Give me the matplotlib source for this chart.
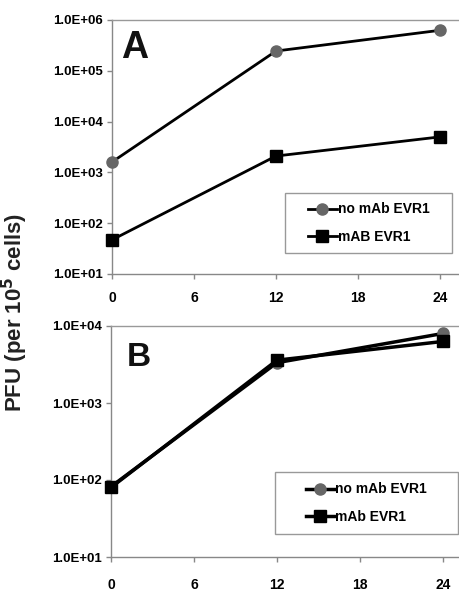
import matplotlib
matplotlib.use("Agg")
import matplotlib.pyplot as plt
from matplotlib.ticker import FixedLocator, NullLocator
from matplotlib.patches import Rectangle

plt.rcParams['font.family'] = ['Liberation Sans', 'DejaVu Sans']
plt.rcParams['font.weight'] = 'bold'

hours = [0, 12, 24]
xticks = [0, 6, 12, 18, 24]

a_no_mab = [1600, 245000, 627000]
a_mab = [47, 2100, 5000]
a_labels = ["no mAb EVR1", "mAB EVR1"]
a_yticks = [1e1, 1e2, 1e3, 1e4, 1e5, 1e6]
a_yticklabels = ["1.0E+01", "1.0E+02", "1.0E+03", "1.0E+04", "1.0E+05", "1.0E+06"]

b_no_mab = [82, 3340, 8000]
b_mab = [80, 3600, 6300]
b_labels = ["no mAb EVR1", "mAb EVR1"]
b_yticks = [1e1, 1e2, 1e3, 1e4]
b_yticklabels = ["1.0E+01", "1.0E+02", "1.0E+03", "1.0E+04"]

W, H = 459, 609
fig = plt.figure(figsize=(W / 100, H / 100), dpi=100)


def make_ax(left, top, bottom, x24):
    right = W
    ax = fig.add_axes([left / W, 1 - bottom / H, (right - left) / W, (bottom - top) / H])
    xmax = 24 * (right - left) / (x24 - left)
    return ax, xmax


def style(ax, xmax, yticks, ylabels, ylim, xpad, letter, lx, ly, lsize, cond=False):
    ax.set_yscale('log')
    ax.set_xlim(0, xmax)
    ax.set_ylim(*ylim)
    ax.xaxis.set_major_locator(FixedLocator(xticks))
    ax.set_xticklabels([str(t) for t in xticks], fontsize=10, fontweight='bold')
    ax.yaxis.set_major_locator(FixedLocator(yticks))
    ax.yaxis.set_minor_locator(NullLocator())
    fam = ['Liberation Sans Narrow', 'Liberation Sans'] if cond else ['Liberation Sans']
    ax.set_yticklabels(ylabels, fontsize=9.5, fontweight='bold', family=fam)
    for s in ['left', 'bottom']:
        ax.spines[s].set_color('#888888')
        ax.spines[s].set_linewidth(1.0)
    ax.spines['top'].set_color('#999999')
    ax.spines['top'].set_linewidth(1.0)
    ax.spines['right'].set_visible(False)
    ax.tick_params(axis='both', direction='out', length=3.6, color='#888888', width=1)
    ax.tick_params(axis='x', pad=xpad)
    ax.tick_params(axis='y', pad=3)
    ax.text(lx, ly, letter, transform=ax.transAxes, fontsize=lsize, fontweight='bold',
            va='top', ha='left', color='#111111')


def boxed_legend(ax, rect, labels, fam=None):
    x0, y0, x1, y1 = rect
    ax.add_patch(Rectangle((x0, y0), x1 - x0, y1 - y0, transform=ax.transAxes,
                           fill=True, facecolor='white', edgecolor='#999999', lw=1.0,
                           zorder=4, clip_on=False))
    prop = {'size': 10, 'weight': 'bold'}
    if fam:
        prop['family'] = fam
    leg = ax.legend(loc='center', bbox_to_anchor=((x0 + x1) / 2, (y0 + y1) / 2),
                    bbox_transform=ax.transAxes, frameon=False, prop=prop,
                    labelspacing=0.95, handlelength=2.1, handletextpad=0.05, borderpad=0)
    leg.set_zorder(5)
    return leg


# Panel A
axA, xmaxA = make_ax(112, 20, 274, 440)
axA.plot(hours, a_no_mab, color='black', lw=2, marker='o', ms=8,
         mfc='#666666', mec='#666666', label=a_labels[0], clip_on=False, zorder=3)
axA.plot(hours, a_mab, color='black', lw=2, marker='s', ms=8,
         mfc='black', mec='black', label=a_labels[1], clip_on=False, zorder=3)
style(axA, xmaxA, a_yticks, a_yticklabels, (1e1, 1e6), 8.6, 'A', 0.026, 0.96, 27)
boxed_legend(axA, (0.4986, 0.0827, 0.980, 0.319), a_labels)

# Panel B
axB, xmaxB = make_ax(111, 326, 557, 443)
axB.plot(hours, b_no_mab, color='black', lw=2.5, marker='o', ms=8,
         mfc='#666666', mec='#666666', label=b_labels[0], clip_on=False, zorder=3)
axB.plot(hours, b_mab, color='black', lw=2.5, marker='s', ms=8,
         mfc='black', mec='black', label=b_labels[1], clip_on=False, zorder=3)
style(axB, xmaxB, b_yticks, b_yticklabels, (1e1, 1e4), 11.5, 'B', 0.045, 0.93, 24, cond=True)
boxed_legend(axB, (0.471, 0.0996, 0.997, 0.368), b_labels,
             fam=['Liberation Sans Narrow', 'Liberation Sans'])

fig.text(15 / W, 1 - 312 / H, r'PFU (per 10$^{\mathbf{5}}$ cells)', rotation=90, ha='center', va='center',
         fontsize=16, fontweight='bold', color='#222222')

fig.savefig('out.png', dpi=100)
